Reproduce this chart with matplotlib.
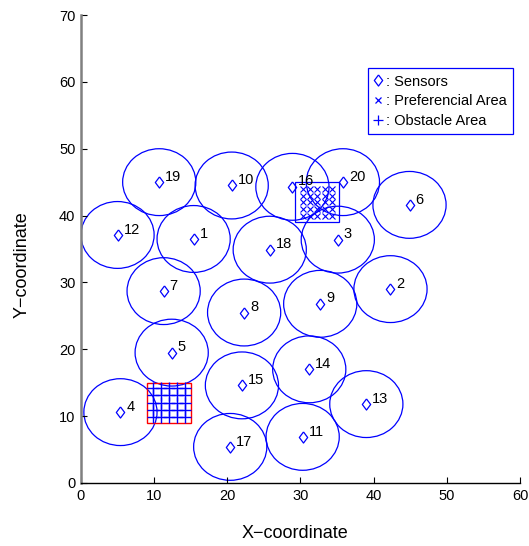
import matplotlib.pyplot as plt
from matplotlib.patches import Circle, Rectangle
from matplotlib.lines import Line2D

plt.rcParams['font.family'] = ['Liberation Sans', 'DejaVu Sans']

# sensor positions
sensor_ids = [1, 2, 3, 4, 5, 6, 7, 8, 9, 10, 11, 12, 13, 14, 15, 16, 17, 18, 19, 20]
sensor_x = [15.4, 42.3, 35.1, 5.4, 12.4, 44.9, 11.3, 22.3, 32.7, 20.6,
            30.3, 5.0, 39.0, 31.2, 22.0, 28.9, 20.4, 25.8, 10.7, 35.8]
sensor_y = [36.5, 29.0, 36.4, 10.6, 19.5, 41.6, 28.7, 25.5, 26.8, 44.5,
            6.9, 37.1, 11.8, 17.0, 14.6, 44.3, 5.4, 34.9, 45.0, 45.0]
sensing_radius = 5

# preferential area (x markers) and its box
pref_x = [30.3, 31.3, 32.3, 33.3, 34.3]
pref_y = [40, 41, 42, 43, 44]
pref_box = (29.3, 39, 6, 6)

# obstacle area (+ markers) and its box
obst_x = [9.8, 10.9, 12.0, 13.1, 14.2]
obst_y = [9.8, 10.9, 12.0, 13.1, 14.2]
obst_box = (9, 9, 6, 6)

# matlab-like diamond, a bit taller than wide
diamond = [(0, 1), (0.75, 0), (0, -1), (-0.75, 0), (0, 1)]

fig = plt.figure(figsize=(5.29, 5.46), dpi=100)
ax = fig.add_axes([0.153, 0.1154, 0.83, 0.8571])

# coverage circles + sensors
for sid, x, y in zip(sensor_ids, sensor_x, sensor_y):
    ax.add_patch(Circle((x, y), sensing_radius, fill=False, edgecolor='blue', lw=0.9))
    ax.plot(x, y, marker=diamond, ms=8, mfc='none', mec='blue', mew=0.9, ls='none')
    ax.text(x + 0.8, y + 0.8, str(sid), fontsize=10.5, ha='left', va='center')

# preferential area
ax.add_patch(Rectangle(pref_box[:2], pref_box[2], pref_box[3], fill=False,
                       edgecolor='blue', lw=0.9))
for py in pref_y:
    ax.plot(pref_x, [py] * len(pref_x), 'x', ms=4.5, color='blue', mew=0.8, ls='none')

# obstacle area
ax.add_patch(Rectangle(obst_box[:2], obst_box[2], obst_box[3], fill=False,
                       edgecolor='red', lw=1.0))
for oy in obst_y:
    ax.plot(obst_x, [oy] * len(obst_x), '+', ms=8.5, color='blue', mew=1.0, ls='none')

ax.set_xlim(0, 60)
ax.set_ylim(0, 70)
ax.set_xticks(range(0, 61, 10))
ax.set_yticks(range(0, 71, 10))
ax.tick_params(direction='in', length=4, labelsize=10.5, pad=4)

ax.spines['top'].set_visible(False)
ax.spines['right'].set_visible(False)
ax.spines['left'].set_color('#808080')
ax.spines['left'].set_linewidth(1.8)
ax.spines['bottom'].set_linewidth(1.0)

fig.text(295 / 529, 1 - 533 / 546, 'X\u2212coordinate', fontsize=13, ha='center', va='center')
fig.text(22 / 529, 1 - 265 / 546, 'Y\u2212coordinate', fontsize=13, ha='center', va='center',
         rotation=90)

handles = [
    Line2D([], [], marker=diamond, ls='none', mfc='none', mec='blue', ms=8, mew=0.9),
    Line2D([], [], marker='x', ls='none', color='blue', ms=4.5, mew=0.9),
    Line2D([], [], marker='+', ls='none', color='blue', ms=7, mew=0.9),
]
labels = [': Sensors', ': Preferencial Area', ': Obstacle Area']
leg = ax.legend(handles, labels, loc='upper left',
                bbox_to_anchor=(368 / 529, 1 - 68 / 546), bbox_transform=fig.transFigure,
                fontsize=10.5, handlelength=0.5, handletextpad=0.25, labelspacing=0.38,
                borderpad=0.45, borderaxespad=0, fancybox=False, framealpha=1)
leg.get_frame().set_edgecolor('blue')
leg.get_frame().set_linewidth(0.9)

fig.savefig('out.png', dpi=100)
